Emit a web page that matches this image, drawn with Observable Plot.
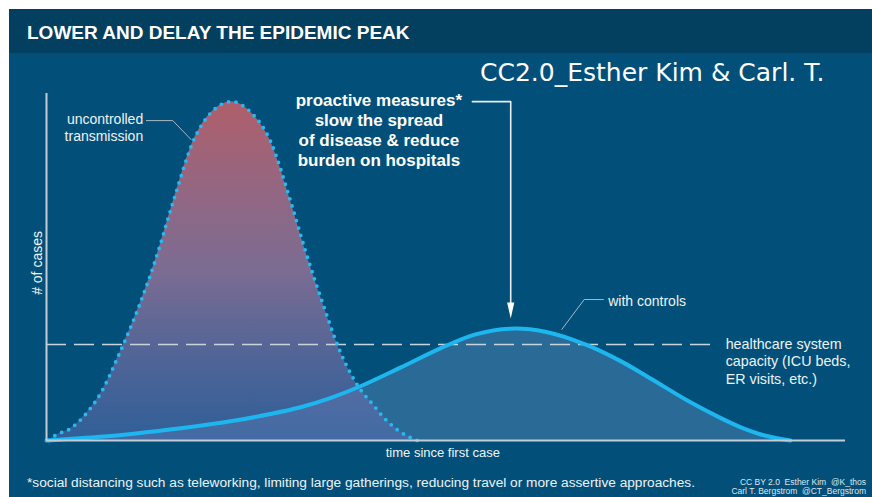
<!DOCTYPE html>
<html><head><meta charset="utf-8">
<script src="https://cdn.jsdelivr.net/npm/d3@7"></script>
<script src="https://cdn.jsdelivr.net/npm/@observablehq/plot@0.6"></script>
<style>
html,body{margin:0;padding:0;background:#fff;}
#wrap{position:relative;width:872px;height:497px;overflow:hidden;font-family:"Liberation Sans",Arial,sans-serif;}
#panel{position:absolute;left:9px;top:9px;right:0;bottom:0;background:#02507a;}
#bar{position:absolute;left:9px;top:9px;right:0;height:44px;background:#033f5f;}
#title{position:absolute;left:27px;top:23.4px;font-size:19px;line-height:19px;font-weight:bold;color:#fff;white-space:nowrap;}
#mark{position:absolute;left:480px;top:59.9px;font-family:"DejaVu Sans",sans-serif;font-size:25px;line-height:25px;color:#fff;white-space:nowrap;}
#foot{position:absolute;left:27px;top:475.5px;font-size:13.7px;line-height:13.7px;color:#eef3f6;white-space:nowrap;}
#credit{position:absolute;right:6px;top:477.5px;font-size:8.5px;line-height:9px;color:#dfe6ea;text-align:right;white-space:pre;}
#chart{position:absolute;left:0;top:0;}
</style></head>
<body>
<div id="wrap">
  <div id="panel"></div>
  <div id="bar"></div>
  <div id="chart"></div>
  <div id="title"></div>
  <div id="mark"></div>
  <div id="foot"></div>
  <div id="credit"></div>
</div>
<script>
// ---- texts ----
const titleText = "LOWER AND DELAY THE EPIDEMIC PEAK";
const watermarkText = "CC2.0_Esther Kim & Carl. T.";
const footnoteText = "*social distancing such as teleworking, limiting large gatherings, reducing travel or more assertive approaches.";
const creditLines = ["CC BY 2.0  Esther Kim  @K_thos", "Carl T. Bergstrom  @CT_Bergstrom"];
const yAxisLabel = "# of cases";
const xAxisLabel = "time since first case";
const uncontrolledLabel = "uncontrolled\ntransmission";
const controlsLabel = "with controls";
const capacityLabel = "healthcare system\ncapacity (ICU beds,\nER visits, etc.)";
const measuresLabel = "proactive measures*\nslow the spread\nof disease & reduce\nburden on hospitals";

// ---- series (time 0-100, cases as % of uncontrolled peak) ----
const uncontrolledDay   = [0.3, 1.1, 3.0, 5.1, 6.8, 9.0, 11.8, 13.6, 15.8, 18.4, 20.5, 23.2, 25.5, 28.0, 30.5, 32.4, 34.5, 36.8, 39.3, 40.9, 42.2, 44.3, 46.4];
const uncontrolledCases = [0, 1.5, 3.5, 8.3, 14, 25, 41, 53, 70, 88.5, 96.5, 100, 97, 88.5, 71, 56, 41, 26, 15, 10.5, 6.8, 2.5, 0];
const controlledDay   = [0, 6.8, 10.9, 16.8, 23.4, 28.0, 31.8, 35.5, 39.3, 44.3, 49.3, 53.7, 58.1, 62.4, 67.5, 71.8, 75.6, 80.2, 84.4, 86.9, 90.0, 93.1];
const controlledCases = [0, 1.1, 2.0, 3.6, 5.8, 7.8, 9.8, 12.5, 16.0, 21.5, 27.2, 31.3, 33, 32.1, 28.3, 23.5, 18.3, 11.8, 6.6, 3.9, 1.4, 0];
const capacity = 28.3;
const capacityEnd = 83.7;

// ---- annotation anchors (data coordinates) ----
const uncontrolledLeaderX = [12.5, 15.8, 18.1];
const uncontrolledLeaderY = [94.4, 94.4, 88.8];
const controlsLeaderX = [69.7, 67.3, 64.5];
const controlsLeaderY = [41.6, 41.6, 32.8];
const measuresArrowX = [53.3, 58.1, 58.1];
const measuresArrowY = [100, 100, 38];
const arrowTip = {x: 58.1, y: 36.0};

const uc = uncontrolledDay.map((d, i) => ({day: d, cases: uncontrolledCases[i]}));
const cc = controlledDay.map((d, i) => ({day: d, cases: controlledCases[i]}));
const pts = (xs, ys) => xs.map((x, i) => ({x, y: ys[i]}));

document.getElementById("title").textContent = titleText;
document.getElementById("mark").textContent = watermarkText;
document.getElementById("foot").textContent = footnoteText;
document.getElementById("credit").textContent = creditLines.join("\n");

const defs = () => {
  const g = d3.create("svg:defs");
  const lg = g.append("linearGradient").attr("id", "ucGrad").attr("x1", 0).attr("y1", 0).attr("x2", 0).attr("y2", 1);
  lg.append("stop").attr("offset", 0).attr("stop-color", "#b05e6a").attr("stop-opacity", 1);
  lg.append("stop").attr("offset", 0.5).attr("stop-color", "#9a7398").attr("stop-opacity", 0.8);
  lg.append("stop").attr("offset", 1).attr("stop-color", "#566bb0").attr("stop-opacity", 0.55);
  return g.node();
};

const font = "Liberation Sans";
const lab = "#eef3f6";
const ccCurve = "catmull-rom";

const chart = Plot.plot({
  width: 872, height: 497,
  marginLeft: 46, marginRight: 27, marginTop: 93, marginBottom: 57,
  style: {background: "transparent", overflow: "visible"},
  x: {domain: [0, 100], axis: null},
  y: {domain: [0, 102.4], axis: null},
  marks: [
    defs,
    Plot.areaY(cc, {x: "day", y: "cases", curve: ccCurve, fill: "#5a8ab8", fillOpacity: 0.45}),
    Plot.areaY(uc, {x: "day", y: "cases", curve: "monotone-x", fill: "url(#ucGrad)"}),
    Plot.ruleY([capacity], {x1: 0, x2: capacityEnd, stroke: "#c9d3dc", strokeWidth: 1.5, strokeDasharray: "20 8"}),
    Plot.line(uc, {x: "day", y: "cases", curve: "monotone-x", stroke: "#2ab8f0", strokeWidth: 3.8, strokeDasharray: "0 7.6", strokeLinecap: "round"}),
    Plot.line(cc, {x: "day", y: "cases", curve: ccCurve, stroke: "#1db6ee", strokeWidth: 4}),
    Plot.ruleX([0], {stroke: "#c3ccd4", strokeWidth: 2}),
    Plot.ruleY([0], {stroke: "#c3ccd4", strokeWidth: 2}),
    Plot.line(pts(uncontrolledLeaderX, uncontrolledLeaderY), {x: "x", y: "y", stroke: "#a9b8c3", strokeWidth: 1}),
    Plot.line(pts(controlsLeaderX, controlsLeaderY), {x: "x", y: "y", stroke: "#a9b8c3", strokeWidth: 1}),
    Plot.line(pts(measuresArrowX, measuresArrowY), {x: "x", y: "y", stroke: "#e8edf0", strokeWidth: 1.6}),
    Plot.vector([arrowTip], {x: "x", y: "y", rotate: 180, length: 16, shape: "spike", r: 3.6, anchor: "end", fill: "white", stroke: "none"}),
    Plot.text([uncontrolledLabel], {x: 12.1, y: 88.5, text: d => d, textAnchor: "end", lineAnchor: "bottom", lineHeight: 1.2, fontSize: 14, fontFamily: font, fill: lab}),
    Plot.text([measuresLabel], {x: 41.6, y: 81.1, text: d => d, textAnchor: "middle", lineAnchor: "bottom", lineHeight: 1.17, fontSize: 17, fontWeight: "bold", fontFamily: font, fill: "white"}),
    Plot.text([controlsLabel], {x: 70.3, y: 39.8, text: d => d, textAnchor: "start", lineAnchor: "bottom", fontSize: 14, fontFamily: font, fill: lab}),
    Plot.text([capacityLabel], {x: 85.0, y: 16.8, text: d => d, textAnchor: "start", lineAnchor: "bottom", lineHeight: 1.2, fontSize: 14.3, fontFamily: font, fill: lab}),
    Plot.text([xAxisLabel], {x: 49.6, y: -5.0, text: d => d, textAnchor: "middle", lineAnchor: "bottom", fontSize: 13, fontFamily: font, fill: lab}),
    Plot.text([yAxisLabel], {x: -0.6, y: 52.4, text: d => d, rotate: -90, textAnchor: "middle", lineAnchor: "bottom", fontSize: 14, fontFamily: font, fill: lab})
  ]
});
document.getElementById("chart").appendChild(chart);
</script>
</body></html>
